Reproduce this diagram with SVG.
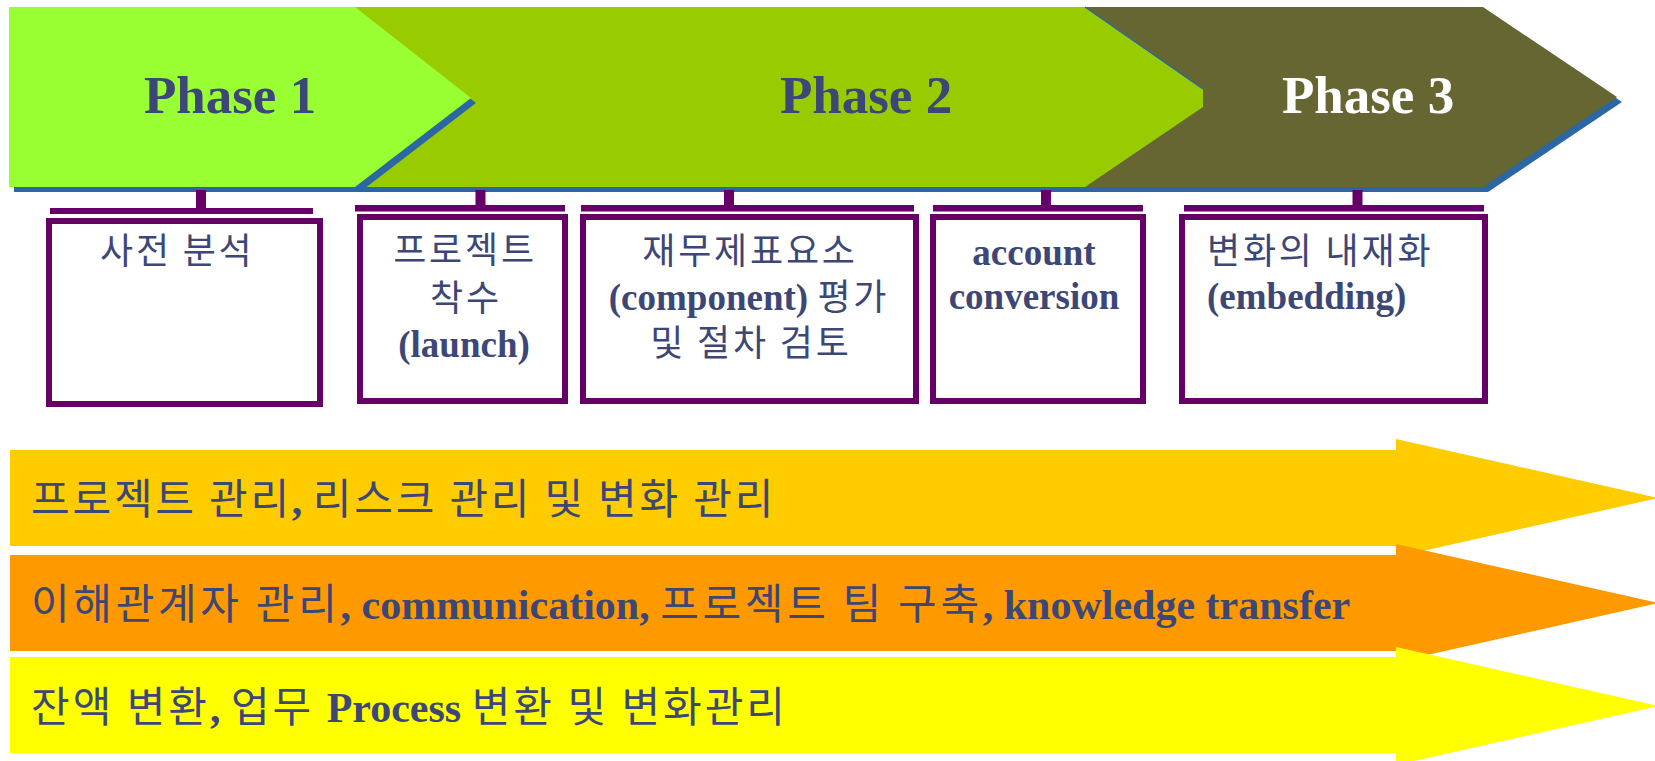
<svg xmlns="http://www.w3.org/2000/svg" width="1655" height="761" viewBox="0 0 1655 761">
<style>
.ph{font-family:"Liberation Serif","Times New Roman",serif;font-weight:bold;font-size:53px;text-anchor:middle;fill:#3D4777}
.ko{font-family:"Noto Sans CJK KR","Noto Sans",sans-serif;font-weight:normal}
.en{font-family:"Liberation Serif","Times New Roman",serif;font-weight:bold}
.bt{font-size:36px;fill:#3D4777}
.bt .en{font-size:37px}
.bt.ko,.bt .ko{letter-spacing:2.8px}
.row{font-size:42px;fill:#3D4777}
.row .ko{letter-spacing:3.7px}
#arrow1 .row .ko{letter-spacing:2.8px}
#arrow3 .row .ko{letter-spacing:3px}
.box{fill:#FFFFFF;stroke:#660066;stroke-width:6}
.con{fill:#660066}
.shadow{fill:#2B66A5}
</style>
<g id="band">
<polygon class="shadow" points="14,12 1488,12 1622,102 1488,192 14,192"/>
<g id="phase3"><polygon fill="#666633" points="1078,7 1483,7 1617,97 1483,187 1078,187"/>
<text class="ph" x="1368" y="113" style="fill:#FFFFFF">Phase 3</text></g>
<g id="phase2"><polygon fill="#99CC00" points="355,7 1085,7 1203,89 1203,107 1085,187 355,187"/>
<line x1="1085" y1="7" x2="1203" y2="89" stroke="#2B66A5" stroke-width="1.5"/>
<text class="ph" x="866" y="113">Phase 2</text></g>
<g id="phase1"><polygon class="shadow" points="14,12 360,12 476,103 360,192 14,192"/>
<polygon fill="#99FF33" points="9,7 355,7 471,98 355,187 9,187"/>
<text class="ph" x="230" y="113">Phase 1</text></g>
</g>
<g id="connectors">
<rect class="con" x="196" y="190" width="10" height="20"/>
<rect class="con" x="50" y="208" width="263" height="6"/>
<rect class="con" x="475.5" y="190" width="10" height="17"/>
<rect class="con" x="355" y="205" width="210" height="6.5"/>
<rect class="con" x="724" y="190" width="10" height="17"/>
<rect class="con" x="581" y="205" width="333" height="6.5"/>
<rect class="con" x="1041" y="190" width="10" height="17"/>
<rect class="con" x="933" y="205" width="210" height="6.5"/>
<rect class="con" x="1352.5" y="190" width="10" height="17"/>
<rect class="con" x="1184" y="205" width="300" height="6.5"/>
</g>
<g id="box1"><rect class="box" x="49" y="221" width="271" height="183"/>
<text class="bt ko" x="100" y="264">사전 분석</text></g>
<g id="box2"><rect class="box" x="360" y="217" width="205" height="184"/>
<text class="bt ko" x="465" y="263" text-anchor="middle">프로젝트</text>
<text class="bt ko" x="466" y="311" text-anchor="middle">착수</text>
<text class="bt" x="464" y="357" text-anchor="middle"><tspan class="en">(launch)</tspan></text></g>
<g id="box3"><rect class="box" x="583" y="217" width="333" height="184"/>
<text class="bt ko" x="750" y="264" text-anchor="middle">재무제표요소</text>
<text class="bt" x="749" y="310" text-anchor="middle"><tspan class="en">(component) </tspan><tspan class="ko">평가</tspan></text>
<text class="bt ko" x="751" y="356" text-anchor="middle">및 절차 검토</text></g>
<g id="box4"><rect class="box" x="933" y="217" width="210" height="184"/>
<text class="bt" x="1034" y="265" text-anchor="middle"><tspan class="en">account</tspan></text>
<text class="bt" x="1034" y="309" text-anchor="middle"><tspan class="en">conversion</tspan></text></g>
<g id="box5"><rect class="box" x="1182" y="217" width="303" height="184"/>
<text class="bt ko" x="1207" y="264">변화의 내재화</text>
<text class="bt" x="1207" y="309"><tspan class="en">(embedding)</tspan></text></g>
<g id="arrow1"><polygon fill="#FFCC00" points="10,450 1396,450 1396,439 1658,498 1396,557 1396,546 10,546"/>
<text class="row" x="31" y="514"><tspan class="ko">프로젝트 관리</tspan><tspan class="en">, </tspan><tspan class="ko">리스크 관리 및 변화 관리</tspan></text></g>
<g id="arrow2"><polygon fill="#FF9900" points="10,555 1396,555 1396,544 1658,603 1396,662 1396,651 10,651"/>
<text class="row" x="31" y="619"><tspan class="ko">이해관계자 관리</tspan><tspan class="en">, communication, </tspan><tspan class="ko">프로젝트 팀 구축</tspan><tspan class="en">, knowledge transfer</tspan></text></g>
<g id="arrow3"><polygon fill="#FFFF00" points="10,657 1396,657 1396,647 1658,706 1396,765 1396,753 10,753"/>
<text class="row" x="31" y="722"><tspan class="ko">잔액 변환</tspan><tspan class="en">, </tspan><tspan class="ko">업무 </tspan><tspan class="en">Process </tspan><tspan class="ko">변환 및 변화관리</tspan></text></g>
</svg>
